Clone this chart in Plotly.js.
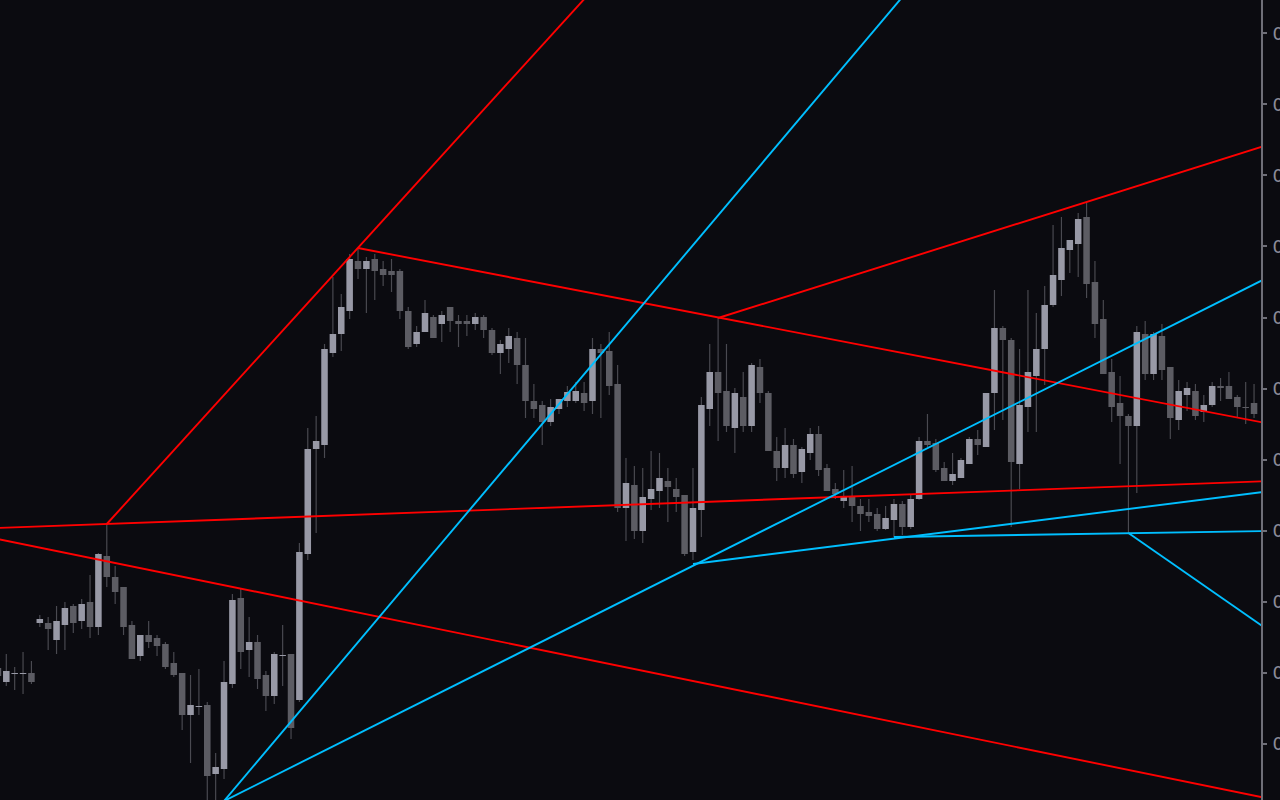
<!DOCTYPE html>
<html>
<head>
<meta charset="utf-8">
<script src="https://cdn.plot.ly/plotly-3.0.1.min.js"></script>
<style>
  html, body { margin: 0; padding: 0; background: #0b0b10; overflow: hidden; }
  #chart { width: 1280px; height: 800px; }
</style>
</head>
<body>
<div id="chart"></div>
<script>
// ---- candle data (bar -1 is the partly visible bar at the left edge) ----
const open = [
  0.7332,
  0.7318, 0.7326, 0.7326, 0.7327, 0.7377, 0.7377, 0.7360, 0.7375, 0.7394, 0.7379,
  0.7398, 0.7373, 0.7444, 0.7423, 0.7413, 0.7375, 0.7344, 0.7365, 0.7362, 0.7356,
  0.7337, 0.7327, 0.7285, 0.7293, 0.7295, 0.7226, 0.7231, 0.7316, 0.7402, 0.7350,
  0.7358, 0.7325, 0.7304, 0.7344, 0.7346, 0.7300, 0.7446, 0.7551, 0.7555, 0.7647,
  0.7666, 0.7689, 0.7739, 0.7731, 0.7741, 0.7731, 0.7729, 0.7729, 0.7689, 0.7656,
  0.7668, 0.7683, 0.7676, 0.7693, 0.7679, 0.7679, 0.7676, 0.7683, 0.7670, 0.7647,
  0.7651, 0.7662, 0.7635, 0.7599, 0.7595, 0.7578, 0.7591, 0.7599, 0.7599, 0.7607,
  0.7599, 0.7651, 0.7649, 0.7616, 0.7492, 0.7515, 0.7469, 0.7501, 0.7509, 0.7519,
  0.7511, 0.7505, 0.7448, 0.7490, 0.7591, 0.7628, 0.7609, 0.7572, 0.7603, 0.7574,
  0.7633, 0.7607, 0.7549, 0.7532, 0.7555, 0.7528, 0.7547, 0.7566, 0.7532, 0.7511,
  0.7499, 0.7504, 0.7494, 0.7488, 0.7486, 0.7471, 0.7480, 0.7496, 0.7473, 0.7501,
  0.7559, 0.7557, 0.7532, 0.7519, 0.7522, 0.7536, 0.7561, 0.7553, 0.7607, 0.7672,
  0.7660, 0.7536, 0.7593, 0.7624, 0.7651, 0.7695, 0.7720, 0.7750, 0.7756, 0.7783,
  0.7718, 0.7681, 0.7628, 0.7597, 0.7584, 0.7574, 0.7666, 0.7626, 0.7664, 0.7633,
  0.7580, 0.7605, 0.7609, 0.7588, 0.7595, 0.7614, 0.7614, 0.7603, 0.7593, 0.7597
];
const high = [
  0.7350,
  0.7346, 0.7333, 0.7348, 0.7339, 0.7385, 0.7383, 0.7394, 0.7398, 0.7396, 0.7401,
  0.7425, 0.7447, 0.7476, 0.7434, 0.7413, 0.7379, 0.7365, 0.7379, 0.7365, 0.7358,
  0.7348, 0.7327, 0.7325, 0.7331, 0.7298, 0.7247, 0.7339, 0.7406, 0.7411, 0.7383,
  0.7365, 0.7329, 0.7348, 0.7375, 0.7346, 0.7457, 0.7572, 0.7584, 0.7656, 0.7723,
  0.7706, 0.7746, 0.7752, 0.7743, 0.7746, 0.7739, 0.7741, 0.7731, 0.7693, 0.7674,
  0.7700, 0.7685, 0.7689, 0.7693, 0.7685, 0.7685, 0.7687, 0.7685, 0.7672, 0.7660,
  0.7672, 0.7668, 0.7662, 0.7616, 0.7599, 0.7601, 0.7601, 0.7614, 0.7618, 0.7618,
  0.7662, 0.7656, 0.7668, 0.7635, 0.7542, 0.7534, 0.7532, 0.7549, 0.7547, 0.7532,
  0.7522, 0.7505, 0.7532, 0.7603, 0.7656, 0.7682, 0.7656, 0.7612, 0.7628, 0.7637,
  0.7641, 0.7609, 0.7563, 0.7572, 0.7561, 0.7553, 0.7572, 0.7574, 0.7536, 0.7517,
  0.7530, 0.7534, 0.7501, 0.7501, 0.7492, 0.7494, 0.7501, 0.7499, 0.7505, 0.7563,
  0.7586, 0.7561, 0.7538, 0.7547, 0.7542, 0.7563, 0.7570, 0.7607, 0.7710, 0.7674,
  0.7662, 0.7651, 0.7710, 0.7687, 0.7714, 0.7775, 0.7783, 0.7760, 0.7787, 0.7798,
  0.7739, 0.7700, 0.7641, 0.7624, 0.7586, 0.7674, 0.7679, 0.7668, 0.7676, 0.7633,
  0.7620, 0.7618, 0.7616, 0.7605, 0.7618, 0.7622, 0.7628, 0.7605, 0.7618, 0.7616
];
const low = [
  0.7318,
  0.7314, 0.7310, 0.7306, 0.7316, 0.7373, 0.7350, 0.7346, 0.7350, 0.7367, 0.7371,
  0.7362, 0.7365, 0.7413, 0.7396, 0.7365, 0.7341, 0.7339, 0.7352, 0.7344, 0.7331,
  0.7323, 0.7270, 0.7237, 0.7285, 0.7200, 0.7200, 0.7221, 0.7312, 0.7331, 0.7323,
  0.7311, 0.7289, 0.7296, 0.7314, 0.7261, 0.7298, 0.7440, 0.7467, 0.7542, 0.7643,
  0.7649, 0.7681, 0.7721, 0.7687, 0.7700, 0.7714, 0.7708, 0.7681, 0.7651, 0.7653,
  0.7668, 0.7662, 0.7658, 0.7668, 0.7653, 0.7664, 0.7670, 0.7662, 0.7645, 0.7626,
  0.7637, 0.7616, 0.7582, 0.7582, 0.7555, 0.7574, 0.7586, 0.7593, 0.7597, 0.7589,
  0.7586, 0.7582, 0.7605, 0.7488, 0.7459, 0.7461, 0.7457, 0.7490, 0.7492, 0.7478,
  0.7488, 0.7444, 0.7440, 0.7463, 0.7574, 0.7559, 0.7568, 0.7547, 0.7568, 0.7568,
  0.7597, 0.7549, 0.7519, 0.7522, 0.7522, 0.7517, 0.7540, 0.7524, 0.7509, 0.7501,
  0.7492, 0.7478, 0.7469, 0.7478, 0.7469, 0.7470, 0.7463, 0.7465, 0.7471, 0.7500,
  0.7553, 0.7528, 0.7519, 0.7515, 0.7522, 0.7536, 0.7545, 0.7553, 0.7570, 0.7580,
  0.7473, 0.7511, 0.7568, 0.7568, 0.7615, 0.7693, 0.7704, 0.7727, 0.7723, 0.7702,
  0.7662, 0.7626, 0.7578, 0.7536, 0.7467, 0.7507, 0.7620, 0.7620, 0.7620, 0.7561,
  0.7570, 0.7589, 0.7580, 0.7578, 0.7593, 0.7599, 0.7601, 0.7582, 0.7576, 0.7582
];
const close = [
  0.7324,
  0.7329, 0.7327, 0.7327, 0.7318, 0.7381, 0.7371, 0.7379, 0.7392, 0.7377, 0.7396,
  0.7373, 0.7446, 0.7423, 0.7408, 0.7373, 0.7341, 0.7365, 0.7358, 0.7354, 0.7333,
  0.7325, 0.7285, 0.7295, 0.7294, 0.7224, 0.7233, 0.7318, 0.7400, 0.7348, 0.7358,
  0.7321, 0.7304, 0.7346, 0.7345, 0.7272, 0.7448, 0.7551, 0.7559, 0.7651, 0.7666,
  0.7693, 0.7741, 0.7731, 0.7739, 0.7729, 0.7725, 0.7725, 0.7689, 0.7653, 0.7668,
  0.7687, 0.7662, 0.7685, 0.7679, 0.7676, 0.7676, 0.7683, 0.7670, 0.7647, 0.7656,
  0.7664, 0.7635, 0.7599, 0.7591, 0.7578, 0.7593, 0.7601, 0.7608, 0.7609, 0.7597,
  0.7651, 0.7647, 0.7614, 0.7492, 0.7517, 0.7469, 0.7503, 0.7511, 0.7522, 0.7513,
  0.7503, 0.7446, 0.7492, 0.7595, 0.7628, 0.7607, 0.7574, 0.7607, 0.7574, 0.7635,
  0.7607, 0.7549, 0.7532, 0.7555, 0.7526, 0.7551, 0.7566, 0.7530, 0.7509, 0.7506,
  0.7504, 0.7494, 0.7486, 0.7484, 0.7471, 0.7482, 0.7496, 0.7473, 0.7501, 0.7559,
  0.7555, 0.7530, 0.7519, 0.7526, 0.7540, 0.7561, 0.7555, 0.7607, 0.7672, 0.7660,
  0.7538, 0.7595, 0.7628, 0.7651, 0.7695, 0.7725, 0.7752, 0.7760, 0.7781, 0.7716,
  0.7676, 0.7626, 0.7593, 0.7584, 0.7574, 0.7668, 0.7626, 0.7666, 0.7630, 0.7582,
  0.7609, 0.7612, 0.7584, 0.7595, 0.7614, 0.7612, 0.7601, 0.7593, 0.7592, 0.7586
];
// bar numbers, -1 .. 149
const barIndex = open.map((_, i) => i - 1);

// ---- trend lines: [start bar, end bar] and [start price, end price] ----
const redLineAx = [12, 70],   redLineAy = [0.7476, 0.8010];
const redLineBx = [-1, 151],  redLineBy = [0.7472, 0.7519];
const redLineCx = [-1, 151],  redLineCy = [0.7461, 0.7201];
const redLineDx = [42, 151],  redLineDy = [0.7752, 0.7576];
const redLineEx = [85, 151],  redLineEy = [0.7682, 0.7856];
const blueLineAx = [26, 107], blueLineAy = [0.7199, 0.8003];
const blueLineBx = [26, 151], blueLineBy = [0.7199, 0.7724];
const blueLineCx = [82, 151], blueLineCy = [0.7436, 0.7509];
const blueLineDx = [106, 151], blueLineDy = [0.7463, 0.7469];
const blueLineEx = [134, 151], blueLineEy = [0.7467, 0.7368];

// ---- price axis ----
const priceRange = [0.7200, 0.8000];
const tickStart = 0.79667, tickStep = 0.007105;

// ---- styles ----
const BG = '#0b0b10';
const UP = '#9899a6', DOWN = '#5c5c63', WICK = '#4a4a51';
const RED = '#ff0000', BLUE = '#00bfff';

const bodyBase = open.map((o, i) => Math.min(o, close[i]));
const bodyLen = open.map((o, i) => Math.max(Math.abs(close[i] - o), 0.0001));
const bodyColor = open.map((o, i) => close[i] >= o ? UP : DOWN);

const traces = [
  { type: 'bar', x: barIndex, base: low, y: high.map((h, i) => h - low[i]),
    width: 0.14, marker: { color: WICK, line: { width: 0 } }, hoverinfo: 'skip' },
  { type: 'bar', x: barIndex, base: bodyBase, y: bodyLen,
    width: 0.78, marker: { color: bodyColor, line: { width: 0 } }, hoverinfo: 'skip' }
];
const lines = [
  [redLineAx, redLineAy, RED], [redLineBx, redLineBy, RED], [redLineCx, redLineCy, RED],
  [redLineDx, redLineDy, RED], [redLineEx, redLineEy, RED],
  [blueLineAx, blueLineAy, BLUE], [blueLineBx, blueLineBy, BLUE], [blueLineCx, blueLineCy, BLUE],
  [blueLineDx, blueLineDy, BLUE], [blueLineEx, blueLineEy, BLUE]
];
lines.forEach(([lx, ly, c]) => traces.push({
  type: 'scatter', mode: 'lines', x: lx, y: ly,
  line: { color: c, width: 1.9 }, hoverinfo: 'skip'
}));

const layout = {
  width: 1280, height: 800,
  paper_bgcolor: BG, plot_bgcolor: BG,
  margin: { l: 0, r: 19, t: 0, b: 0, pad: 0 },
  showlegend: false,
  barmode: 'overlay',
  xaxis: { range: [-0.7523, 149.83], visible: false, showgrid: false, zeroline: false },
  yaxis: {
    side: 'right', range: priceRange,
    showgrid: false, zeroline: false,
    showline: true, linecolor: '#6f6f78', linewidth: 2,
    ticks: 'outside', ticklen: 4, tickwidth: 2, tickcolor: '#6f6f78',
    tick0: tickStart, dtick: tickStep, tickformat: '.4f',
    tickfont: { family: 'DejaVu Sans', size: 18, color: '#8c8c98' },
    ticklabelstandoff: 2
  }
};

Plotly.newPlot('chart', traces, layout, { staticPlot: true, displayModeBar: false });
</script>
</body>
</html>
